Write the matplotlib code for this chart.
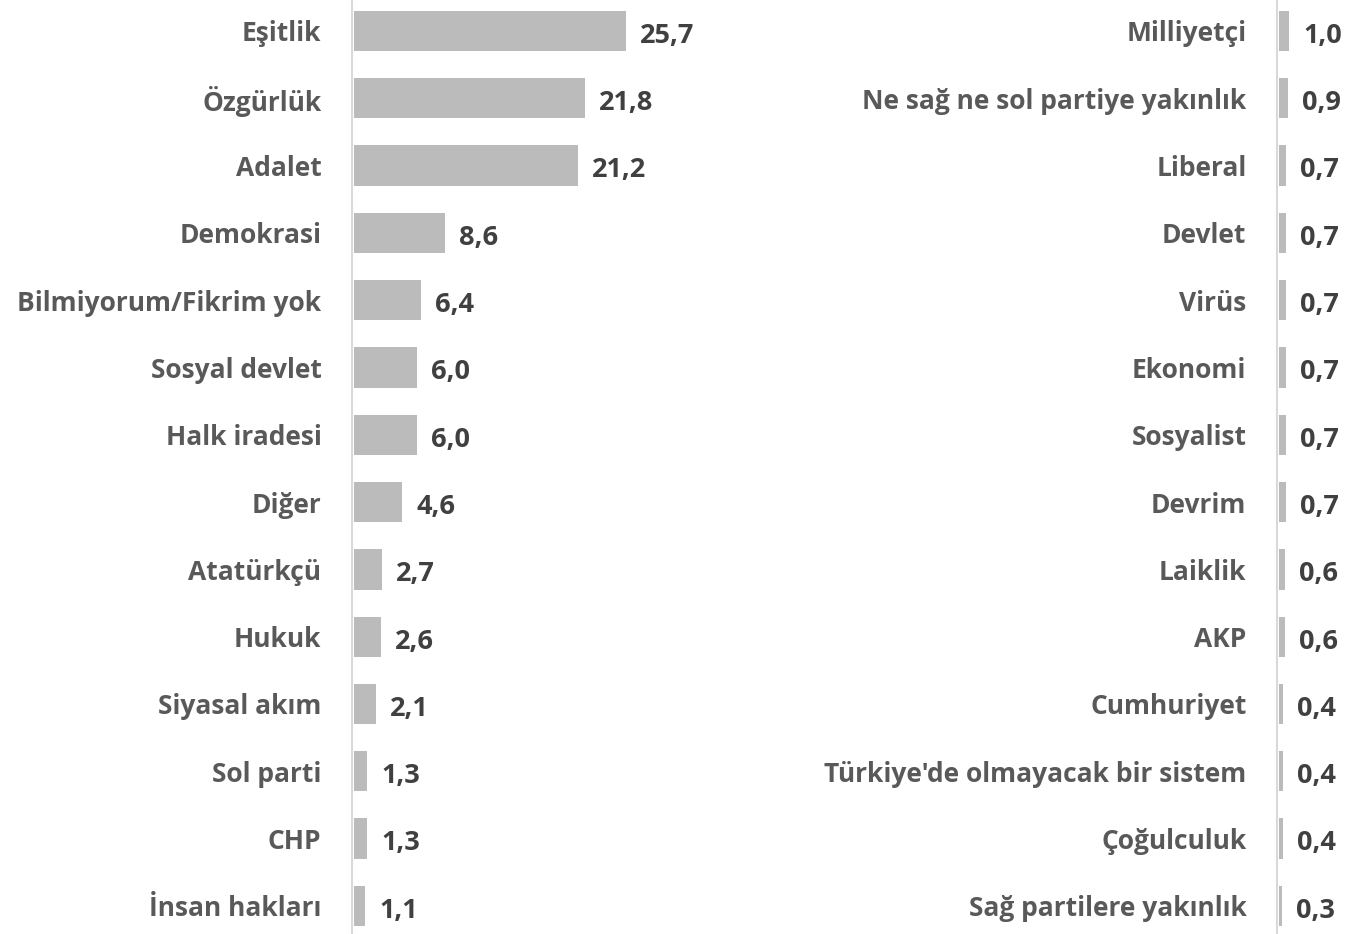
import matplotlib
matplotlib.use("Agg")
import matplotlib.pyplot as plt

plt.rcParams['font.family'] = ['Open Sans', 'DejaVu Sans']

# sol panel
left_labels = ['Eşitlik', 'Özgürlük', 'Adalet', 'Demokrasi', 'Bilmiyorum/Fikrim yok',
               'Sosyal devlet', 'Halk iradesi', 'Diğer', 'Atatürkçü', 'Hukuk',
               'Siyasal akım', 'Sol parti', 'CHP', 'İnsan hakları']
left_values = [25.7, 21.8, 21.2, 8.6, 6.4, 6.0, 6.0, 4.6, 2.7, 2.6, 2.1, 1.3, 1.3, 1.1]

# sağ panel
right_labels = ['Milliyetçi', 'Ne sağ ne sol partiye yakınlık', 'Liberal', 'Devlet', 'Virüs',
                'Ekonomi', 'Sosyalist', 'Devrim', 'Laiklik', 'AKP', 'Cumhuriyet',
                "Türkiye'de olmayacak bir sistem", 'Çoğulculuk', 'Sağ partilere yakınlık']
right_values = [1.0, 0.9, 0.7, 0.7, 0.7, 0.7, 0.7, 0.7, 0.6, 0.6, 0.4, 0.4, 0.4, 0.3]

W, H = 1347, 934
PX_PER_UNIT = 10.6
BAR_COLOR = '#BBBBBB'
AXIS_COLOR = '#D9D9D9'
LABEL_COLOR = '#595959'
VALUE_COLOR = '#404040'
FS = 19

fig = plt.figure(figsize=(W / 100, H / 100), dpi=100)


def panel(x0, width_px, labels, values):
    ax = fig.add_axes([x0 / W, 0, width_px / W, 1])
    n = len(labels)
    y = list(range(n))
    ax.barh(y, values, height=0.6, color=BAR_COLOR, left=0.15)
    ax.set_ylim((H - 31) / 67.3, -31 / 67.3)
    ax.set_xlim(0, width_px / PX_PER_UNIT)
    for s in ['top', 'right', 'bottom']:
        ax.spines[s].set_visible(False)
    ax.spines['left'].set_color(AXIS_COLOR)
    ax.spines['left'].set_linewidth(1.5)
    ax.set_xticks([])
    ax.set_yticks(y)
    ax.set_yticklabels(labels, fontsize=FS, fontweight='bold', color=LABEL_COLOR)
    ax.tick_params(axis='y', length=0, pad=22)
    for yi, v in zip(y, values):
        ax.annotate(f'{v:.1f}'.replace('.', ','), (v + 0.15, yi), xytext=(10, -3.5),
                    textcoords='offset points', va='center', ha='left',
                    fontsize=FS + 0.5, fontweight='bold', color=VALUE_COLOR)
    ax.patch.set_alpha(0)
    return ax


panel(352, 400, left_labels, left_values)
panel(1277, 70, right_labels, right_values)

fig.savefig('out.png', dpi=100)
